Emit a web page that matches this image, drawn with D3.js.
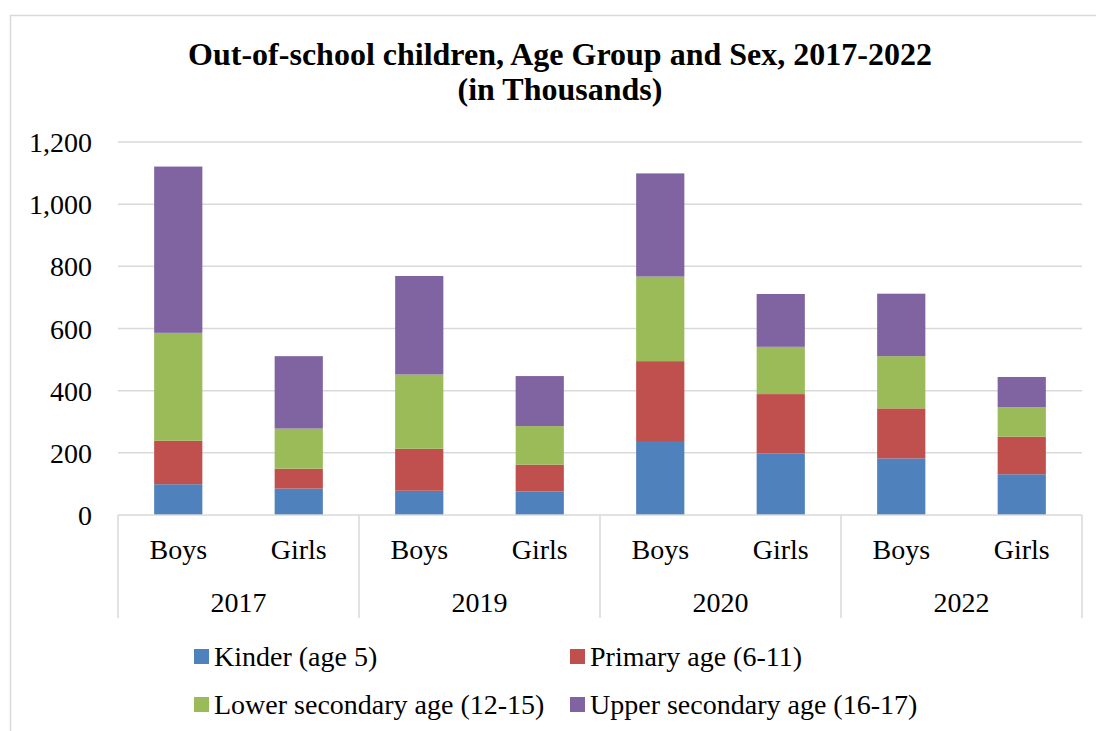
<!DOCTYPE html>
<html>
<head>
<meta charset="utf-8">
<script src="https://cdn.jsdelivr.net/npm/d3@7"></script>
</head>
<body style="margin:0">
<script>
// data (thousands)
const years = ['2017', '2019', '2020', '2022'];
const sexes = ['Boys', 'Girls'];
const seriesNames = ['Kinder (age 5)', 'Primary age (6-11)', 'Lower secondary age (12-15)', 'Upper secondary age (16-17)'];
const kinder = [99, 85, 78, 76, 235, 198, 182, 131];
const primary = [140, 64, 135, 86, 260, 191, 161, 121];
const lowerSec = [347, 129, 239, 124, 272, 152, 168, 95];
const upperSec = [535, 233, 317, 161, 332, 170, 201, 97];
const yTicks = [0, 200, 400, 600, 800, 1000, 1200];
const colors = ['#4F81BD', '#C0504D', '#9BBB59', '#8064A2'];

const FONT = 'Liberation Serif';
const W = 1096, H = 731;
const plot = { left: 118, right: 1082, top: 142, bottom: 515 };

const svg = d3.select('body')
  .append('svg')
  .attr('width', W)
  .attr('height', H)
  .attr('font-family', FONT);

// chart frame
svg.append('rect')
  .attr('x', 10.5)
  .attr('y', 15.5)
  .attr('width', W)
  .attr('height', H)
  .style('fill', 'none')
  .style('stroke', '#d9d9d9')
  .style('stroke-width', 1.5);

// title
const title = svg.append('text')
  .attr('text-anchor', 'middle')
  .attr('font-family', FONT)
  .attr('font-size', 32)
  .attr('font-weight', 'bold');
title.append('tspan').attr('x', 560).attr('y', 65).text('Out-of-school children, Age Group and Sex, 2017-2022');
title.append('tspan').attr('x', 560).attr('y', 100).text('(in Thousands)');

// build rows: one per year/sex
const rows = [];
years.forEach((yr, i) => {
  sexes.forEach((s, j) => {
    const k = i * 2 + j;
    rows.push({ key: yr + '-' + s, year: yr, sex: s,
      kinder: kinder[k], primary: primary[k], lowerSec: lowerSec[k], upperSec: upperSec[k] });
  });
});
const keys = ['kinder', 'primary', 'lowerSec', 'upperSec'];
const stacked = d3.stack().keys(keys)(rows);

const x = d3.scaleBand()
  .domain(rows.map(d => d.key))
  .range([plot.left, plot.right])
  .paddingInner(0.6)
  .paddingOuter(0.3);

const xYear = d3.scaleBand()
  .domain(years)
  .range([plot.left, plot.right]);

const y = d3.scaleLinear()
  .domain([0, 1200])
  .range([plot.bottom, plot.top]);

// gridlines
svg.append('g')
  .selectAll('line')
  .data(yTicks.slice(1))
  .join('line')
  .attr('x1', plot.left)
  .attr('x2', plot.right)
  .attr('y1', d => y(d))
  .attr('y2', d => y(d))
  .style('stroke', '#d9d9d9')
  .style('stroke-width', 1.5);

// y axis labels
const yAxis = svg.append('g')
  .attr('transform', `translate(${plot.left - 26},0)`)
  .call(d3.axisLeft(y).tickValues(yTicks).tickSize(0).tickFormat(d3.format(',')));
yAxis.select('.domain').remove();
yAxis.attr('font-family', FONT).attr('font-size', 28);
yAxis.selectAll('text')
  .attr('font-family', FONT)
  .attr('fill', '#000')
  .attr('dy', '0.34em')
  .attr('x', 0);

// bars
svg.append('g')
  .selectAll('g')
  .data(stacked)
  .join('g')
  .style('fill', (d, i) => colors[i])
  .selectAll('rect')
  .data(d => d)
  .join('rect')
  .attr('x', d => x(d.data.key))
  .attr('width', x.bandwidth())
  .attr('y', d => y(d[1]))
  .attr('height', d => y(d[0]) - y(d[1]));

// category axis: baseline and group separators
svg.append('line')
  .attr('x1', plot.left)
  .attr('x2', plot.right)
  .attr('y1', plot.bottom)
  .attr('y2', plot.bottom)
  .style('stroke', '#d9d9d9')
  .style('stroke-width', 1.5);

const seps = years.map(yr => xYear(yr)).concat([plot.right]);
svg.append('g')
  .selectAll('line')
  .data(seps)
  .join('line')
  .attr('x1', d => d)
  .attr('x2', d => d)
  .attr('y1', plot.bottom)
  .attr('y2', 618)
  .style('stroke', '#d9d9d9')
  .style('stroke-width', 1.5);

// sex labels
svg.append('g')
  .selectAll('text')
  .data(rows)
  .join('text')
  .attr('x', d => x(d.key) + x.bandwidth() / 2)
  .attr('y', 559)
  .attr('text-anchor', 'middle')
  .attr('font-family', FONT)
  .attr('font-size', 28)
  .text(d => d.sex);

// year labels
svg.append('g')
  .selectAll('text')
  .data(years)
  .join('text')
  .attr('x', d => xYear(d) + xYear.bandwidth() / 2)
  .attr('y', 612)
  .attr('text-anchor', 'middle')
  .attr('font-family', FONT)
  .attr('font-size', 28)
  .text(d => d);

// legend
const legendPos = [[194, 649], [570, 649], [194, 697], [570, 697]];
const legend = svg.append('g');
seriesNames.forEach((name, i) => {
  const item = legend.append('g')
    .attr('transform', `translate(${legendPos[i][0]},${legendPos[i][1]})`);
  item.append('rect')
    .attr('width', 15)
    .attr('height', 15)
    .style('fill', colors[i]);
  item.append('text')
    .text(name)
    .attr('font-family', FONT)
    .attr('font-size', 28)
    .attr('transform', 'translate(20, 17)');
});
</script>
</body>
</html>
